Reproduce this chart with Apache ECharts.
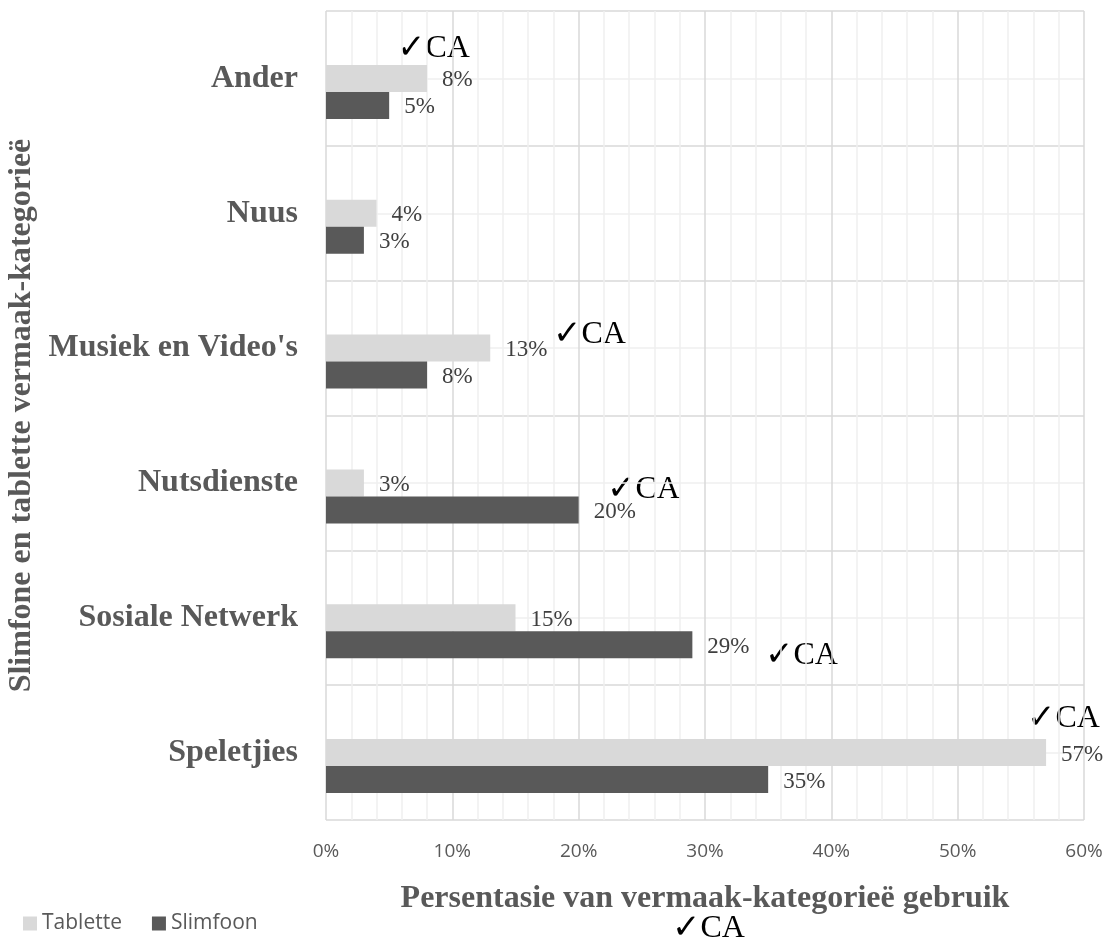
<!DOCTYPE html>
<html lang="af">
<head>
    <meta charset="UTF-8">
    <title>Vermaak-kategorieë</title>
    <script src="https://cdn.jsdelivr.net/npm/echarts@6/dist/echarts.min.js"></script>
    <style>
        html, body { margin: 0; padding: 0; background: #fff; }
    </style>
</head>
<body>
    <div id="main" style="width: 1113px;height:944px;"></div>
    <script>
        // categories listed bottom to top
        var categories = ['Speletjies', 'Sosiale Netwerk', 'Nutsdienste', "Musiek en Video's", 'Nuus', 'Ander'];
        var tablette = [57, 15, 3, 13, 4, 8];
        var slimfoon = [35, 29, 20, 8, 3, 5];
        var xTicks = [0, 10, 20, 30, 40, 50, 60];

        var serif = '"Liberation Serif", "DejaVu Serif", serif';
        var sans = '"Open Sans", "Liberation Sans", sans-serif';

        // free-floating "✓CA" marks, x = left edge, y = vertical centre
        function caMark(x, y) {
            return {
                type: 'text', x: x, y: y,
                style: {
                    text: '{c|\u2713}{t|CA}',
                    verticalAlign: 'middle',
                    rich: {
                        c: { fontFamily: '"DejaVu Sans", sans-serif', fontSize: 34, fill: '#000', fontWeight: 'bold' },
                        t: { fontFamily: serif, fontSize: 32, fill: '#000' }
                    }
                }
            };
        }

        var barLabel = {
            show: true, position: 'right', distance: 15,
            formatter: '{c}%', fontFamily: serif, fontSize: 23, color: '#404040',
            offset: [0, 2]
        };

        var myChart = echarts.init(document.getElementById('main'));
        var option = {
            animation: false,
            grid: { left: 326, right: 29, top: 11, bottom: 124, outerBoundsMode: 'none', containLabel: false },
            legend: {
                left: 18, top: 908,
                itemWidth: 14, itemHeight: 14, itemGap: 30,
                icon: 'rect',
                textStyle: { fontFamily: sans, fontSize: 21, color: '#595959' },
                data: ['Tablette', 'Slimfoon']
            },
            xAxis: {
                type: 'value',
                min: xTicks[0], max: xTicks[xTicks.length - 1], interval: 10,
                axisLine: { show: false },
                axisTick: { show: false },
                axisLabel: { formatter: '{value}%', fontFamily: sans, fontSize: 19, color: '#595959', margin: 22 },
                splitLine: { lineStyle: { color: '#d9d9d9', width: 1.5 } },
                minorTick: { show: false, splitNumber: 5 },
                minorSplitLine: { show: true, lineStyle: { color: '#efefef', width: 1.5 } },
                name: 'Persentasie van vermaak-kategorieë gebruik',
                nameLocation: 'middle',
                nameGap: 63,
                nameTextStyle: { fontFamily: serif, fontWeight: 'bold', fontSize: 32, color: '#595959' }
            },
            yAxis: [{
                type: 'category',
                data: categories,
                axisLine: { show: false },
                axisTick: { show: false },
                splitLine: { show: false },
                axisLabel: { fontFamily: serif, fontWeight: 'bold', fontSize: 32, color: '#595959', margin: 28 },
                name: 'Slimfone en tablette vermaak-kategorieë',
                nameLocation: 'middle',
                nameRotate: 90,
                nameGap: 282,
                nameTextStyle: { fontFamily: serif, fontWeight: 'bold', fontSize: 32, color: '#595959' }
            }, {
                // hidden helper axis for the horizontal gridlines
                type: 'value',
                min: 0, max: categories.length, interval: 1,
                position: 'left',
                axisLine: { show: false },
                axisTick: { show: false },
                axisLabel: { show: false },
                splitLine: { lineStyle: { color: '#d9d9d9', width: 1.5 } },
                minorTick: { show: false, splitNumber: 2 },
                minorSplitLine: { show: true, lineStyle: { color: '#efefef', width: 1.5 } }
            }],
            series: [
                {
                    // empty slot the original chart keeps above each pair of bars
                    name: 'leeg',
                    type: 'bar',
                    data: [],
                    barWidth: 27,
                    barGap: '0%'
                },
                {
                    name: 'Tablette',
                    type: 'bar',
                    data: tablette,
                    barWidth: 27,
                    barGap: '0%',
                    itemStyle: { color: '#d9d9d9' },
                    label: barLabel
                },
                {
                    name: 'Slimfoon',
                    type: 'bar',
                    data: slimfoon,
                    barWidth: 27,
                    barGap: '0%',
                    itemStyle: { color: '#595959' },
                    label: barLabel
                }
            ],
            graphic: [
                caMark(397, 49),
                caMark(553, 335),
                caMark(607, 490),
                caMark(765, 656),
                caMark(1027, 719),
                caMark(672, 929)
            ]
        };
        option && myChart.setOption(option);
    </script>
</body>
</html>
